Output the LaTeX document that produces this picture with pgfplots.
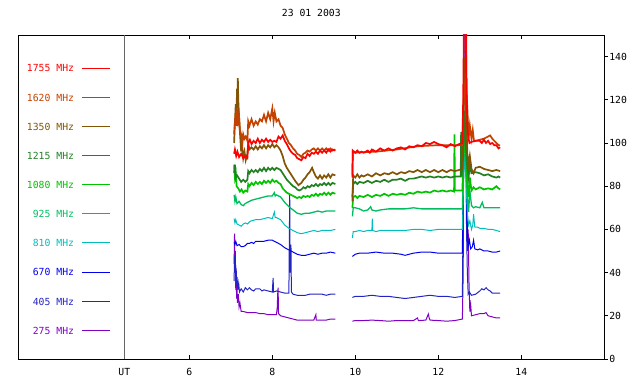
\documentclass[border=0pt]{standalone}
\usepackage{fontspec}
\setmainfont{DejaVu Sans Mono}
\usepackage{pgfplots}
\pgfplotsset{compat=1.18}
\definecolor{c1755}{RGB}{255,0,0}
\definecolor{c1620}{RGB}{196,66,0}
\definecolor{c1350}{RGB}{130,84,4}
\definecolor{c1215}{RGB}{34,128,34}
\definecolor{c1080}{RGB}{0,196,0}
\definecolor{c925}{RGB}{0,190,96}
\definecolor{c810}{RGB}{0,190,190}
\definecolor{c670}{RGB}{0,0,240}
\definecolor{c405}{RGB}{36,36,196}
\definecolor{c275}{RGB}{128,0,196}
\begin{document}
\begin{tikzpicture}[font=\fontsize{9.8}{11}\selectfont]
\begin{axis}[
  at={(0,0)}, anchor=south west,
  scale only axis, width=586bp, height=324bp,
  xmin=1.88, xmax=16.0, ymin=0, ymax=150,
  xtick={6,8,10,12,14}, ytick={0,20,...,140},
  extra x ticks={4.434}, extra x tick labels={UT},
  extra x tick style={grid=major, major grid style={draw=black!60, line width=0.8bp}, major tick length=0pt},
  ytick pos=right, yticklabel pos=right,
  tick align=inside, major tick length=4bp,
  y tick style={xshift=3.5bp},
  tick style={black, line width=0.7bp},
  axis line style={line width=0.8bp},
  /pgf/number format/assume math mode=true,
  x tick label style={yshift=-5.5bp},
  y tick label style={xshift=1.5bp},
  title={23 01 2003},
  title style={at={(0.5,1)}, anchor=base, yshift=13bp},
  unbounded coords=jump,
  every axis plot/.append style={line width=1bp},
  noisy/.style={line width=1.7bp},
  reverse legend,
  legend plot pos=right, legend cell align=right,
  legend image code/.code={\draw[#1,line width=1bp] (0bp,1bp) -- (28bp,1bp);},
  legend style={draw=none, fill=none, inner sep=0pt, outer sep=0pt,
    at={(axis cs:4.09,136.2)}, anchor=north east,
    row sep=20.4bp, column sep=7bp, nodes={inner sep=0pt}},
]
% 275 MHz
\addplot[c275] coordinates {(7.08,44) (7.09,58) (7.1,40) (7.11,50) (7.12,32) (7.13,40) (7.14,28) (7.15,34) (7.16,26) (7.18,30) (7.2,24) (7.22,26) (7.25,22) (7.3,22) (7.4,21.5) (7.5,21.5) (7.6,21.5) (7.7,21) (7.8,21) (7.9,20.5) (8.0,20.5) (8.1,20.5) (8.12,24) (8.13,30) (8.14,33) (8.15,21) (8.2,20) (8.3,19.5) (8.4,19) (8.5,18.5) (8.6,18) (8.7,18) (8.8,18) (8.9,18) (9.0,18) (9.05,20.5) (9.06,18) (9.2,18) (9.3,18) (9.4,18.5) (9.52,18.5) (9.7,nan)
(9.93,17.5) (10.0,17.8) (10.2,17.8) (10.4,18) (10.6,17.8) (10.8,17.5) (11.0,17.8) (11.2,17.8) (11.4,17.8) (11.5,19) (11.52,17.8) (11.7,18) (11.76,20.8) (11.78,19) (11.8,18) (12.0,17.8) (12.2,17.5) (12.4,17.8) (12.58,18.5) (12.6,40) (12.62,160) (12.68,160) (12.7,50) (12.72,60) (12.74,35) (12.76,22) (12.78,25) (12.8,20) (12.9,20.5) (13.0,21) (13.1,21) (13.15,21.5) (13.2,20) (13.3,19.5) (13.4,19) (13.49,19)};
\addlegendentry{\textcolor{c275}{275 MHz}}
% 405 MHz
\addplot[c405] coordinates {(7.08,36) (7.09,48) (7.1,42) (7.11,46) (7.12,38) (7.13,42) (7.14,34) (7.15,38) (7.17,32) (7.19,35) (7.21,31) (7.25,32.5) (7.3,31) (7.35,33) (7.4,32) (7.45,33) (7.5,32) (7.55,31.5) (7.6,32.5) (7.7,32.5) (7.75,31.5) (7.8,32) (7.9,31.5) (8.0,31) (8.02,37.5) (8.03,31) (8.1,31.5) (8.2,31) (8.3,30.5) (8.4,30.5) (8.42,76) (8.43,40) (8.45,53) (8.46,31) (8.5,30) (8.6,29.5) (8.7,29.5) (8.8,29.5) (8.9,30) (9.0,30) (9.1,30) (9.2,30) (9.3,29.5) (9.4,30) (9.52,30) (9.7,nan)
(9.93,28.5) (10.0,29) (10.2,29) (10.4,29.5) (10.6,29) (10.8,29) (11.0,28.5) (11.2,28) (11.4,28.5) (11.6,29) (11.8,29.5) (12.0,29) (12.2,29) (12.4,28.5) (12.58,29) (12.6,70) (12.62,160) (12.66,160) (12.68,60) (12.7,40) (12.72,30) (12.75,31) (12.8,29.5) (12.9,30) (13.0,31.5) (13.05,32.5) (13.1,32) (13.15,33) (13.2,32) (13.25,31.5) (13.3,30.5) (13.4,30.5) (13.49,30.5)};
\addlegendentry{\textcolor{c405}{405 MHz}}
% 670 MHz
\addplot[c670] coordinates {(7.08,54) (7.1,53) (7.12,54.5) (7.15,52.5) (7.2,53) (7.25,52) (7.3,52) (7.35,52.5) (7.4,53.5) (7.45,53.5) (7.5,54) (7.55,53.5) (7.6,54.5) (7.7,54.5) (7.8,54.5) (7.9,55) (8.0,55) (8.1,54) (8.2,53) (8.3,51.5) (8.4,50.5) (8.5,49.5) (8.6,48.5) (8.7,48) (8.8,48) (8.9,48.5) (9.0,49) (9.1,48.5) (9.2,49) (9.3,49) (9.4,49.5) (9.52,49) (9.7,nan)
(9.93,47.5) (10.0,48.5) (10.1,49) (10.3,49) (10.5,49.5) (10.7,49) (10.9,49) (11.1,48.5) (11.2,48) (11.4,49) (11.6,49.5) (11.8,49.5) (12.0,49) (12.2,49) (12.4,49) (12.58,49) (12.6,90) (12.62,160) (12.66,160) (12.68,70) (12.7,60) (12.72,52) (12.75,55) (12.78,51) (12.82,52) (12.85,55) (12.88,51) (12.95,50.5) (13.0,51) (13.1,50) (13.2,50) (13.3,49.5) (13.4,49.5) (13.49,50)};
\addlegendentry{\textcolor{c670}{670 MHz}}
% 810 MHz
\addplot[c810] coordinates {(7.08,65) (7.1,63) (7.12,64.5) (7.15,62.5) (7.2,62) (7.25,61.5) (7.3,62.5) (7.35,63) (7.4,62.5) (7.45,63.5) (7.5,64) (7.6,64.5) (7.7,64.5) (7.8,65) (7.9,65.5) (8.0,65) (8.05,68) (8.07,65.5) (8.1,65.5) (8.2,64.5) (8.3,62) (8.4,60.5) (8.5,59.5) (8.6,58.5) (8.7,58) (8.8,58.5) (8.9,59) (9.0,59.5) (9.1,59) (9.2,59.5) (9.3,59.5) (9.4,59.5) (9.52,60) (9.7,nan)
(9.93,56) (9.95,59) (10.0,59) (10.1,59.5) (10.2,59) (10.3,59.5) (10.4,59.5) (10.41,65) (10.42,59.5) (10.5,59) (10.6,59.5) (10.8,59.5) (11.0,59.5) (11.2,59.5) (11.4,60) (11.6,60) (11.8,59.5) (12.0,60) (12.2,60) (12.4,60) (12.58,60) (12.6,75) (12.63,95) (12.66,85) (12.7,68) (12.73,62) (12.76,64) (12.8,60) (12.83,62) (12.85,67) (12.88,61) (12.95,61) (13.0,60.5) (13.1,60.5) (13.2,60) (13.3,60) (13.4,59.5) (13.49,59)};
\addlegendentry{\textcolor{c810}{810 MHz}}
% 925 MHz
\addplot[c925, line width=1.3bp] coordinates {(7.08,76) (7.1,73) (7.12,75) (7.15,72) (7.2,73) (7.25,71.5) (7.3,71) (7.35,72) (7.4,72.5) (7.5,73.5) (7.6,74) (7.7,74.5) (7.8,75) (7.9,75.5) (8.0,75.5) (8.05,77) (8.07,75.5) (8.1,76) (8.2,75) (8.3,72.5) (8.4,70.5) (8.5,69) (8.6,67.5) (8.7,67) (8.8,67.5) (8.9,67.5) (9.0,68) (9.1,68.5) (9.2,68) (9.3,68.5) (9.4,68.5) (9.52,68.5) (9.7,nan)
(9.93,66) (9.95,70) (10.0,70) (10.1,69.5) (10.2,68.5) (10.3,69) (10.37,70.5) (10.4,69) (10.5,68.5) (10.6,69) (10.8,69.5) (11.0,69.5) (11.2,69.5) (11.4,70) (11.6,69.5) (11.8,69.5) (12.0,69.5) (12.2,69.5) (12.4,69.5) (12.58,69.5) (12.6,85) (12.63,105) (12.66,95) (12.7,75) (12.73,68) (12.76,78) (12.8,71) (12.85,70) (12.9,70.5) (13.0,70) (13.06,72.5) (13.1,70) (13.2,70) (13.3,70) (13.4,70) (13.49,70)};
\addlegendentry{\textcolor{c925}{925 MHz}}
% 1080 MHz
\addplot[c1080, noisy] coordinates {(7.08,90) (7.1,84) (7.12,86) (7.14,80) (7.18,79) (7.22,77.5) (7.26,78.5) (7.3,77) (7.35,78) (7.4,77.5) (7.42,81) (7.45,80) (7.5,81.5) (7.55,80.5) (7.6,82) (7.65,81) (7.7,82) (7.75,81) (7.8,82.5) (7.85,81.5) (7.9,82.5) (7.95,81.5) (8.0,83) (8.05,82) (8.1,82.5) (8.15,81.5) (8.2,81) (8.25,79) (8.3,78) (8.35,77) (8.4,76.5) (8.45,76) (8.5,75.5) (8.55,75) (8.6,74.5) (8.65,75) (8.7,74.5) (8.75,75.5) (8.8,75) (8.85,75.5) (8.9,75) (8.95,76) (9.0,75.5) (9.05,76.5) (9.1,75.5) (9.15,76.5) (9.2,76) (9.25,77) (9.3,76) (9.35,77) (9.4,76) (9.45,77) (9.52,76.5) (9.7,nan)
(9.93,70) (9.95,75) (10.0,75.5) (10.05,74.5) (10.1,75.5) (10.2,75) (10.3,76) (10.4,75) (10.5,76) (10.6,75.5) (10.7,76.5) (10.8,75.5) (10.9,76.5) (11.0,76) (11.1,76.5) (11.2,76) (11.3,77) (11.4,76.5) (11.5,77.5) (11.6,77) (11.7,77.5) (11.8,77) (11.9,78) (12.0,77.5) (12.1,78) (12.2,77.5) (12.3,78) (12.38,77.5) (12.39,104) (12.4,78) (12.5,78) (12.58,78) (12.6,90) (12.63,110) (12.66,95) (12.7,80) (12.73,75) (12.76,84) (12.8,78) (12.85,79.5) (12.9,78.5) (13.0,79.5) (13.1,78.5) (13.2,79) (13.3,78.5) (13.4,80) (13.45,79) (13.49,78.5)};
\addlegendentry{\textcolor{c1080}{1080 MHz}}
% 1215 MHz
\addplot[c1215, noisy] coordinates {(7.08,86) (7.1,90) (7.12,84) (7.15,85) (7.2,83.5) (7.25,82) (7.3,83) (7.35,82) (7.4,83) (7.42,87) (7.45,86) (7.5,87.5) (7.55,86.5) (7.6,87.5) (7.65,86.5) (7.7,88) (7.75,87) (7.8,88.5) (7.85,87) (7.9,88.5) (7.95,87.5) (8.0,88.5) (8.05,87.5) (8.1,88.5) (8.15,88) (8.2,87.5) (8.25,86) (8.3,84.5) (8.35,83) (8.4,82) (8.45,81) (8.5,80) (8.55,79.5) (8.6,78.5) (8.65,78) (8.7,78.5) (8.75,79.5) (8.8,79) (8.85,80) (8.9,79.5) (8.95,80.5) (9.0,80) (9.05,81) (9.1,80) (9.15,81) (9.2,80.5) (9.25,81.5) (9.3,80.5) (9.35,81.5) (9.4,80.5) (9.45,81.5) (9.52,81) (9.7,nan)
(9.93,75) (9.95,81) (10.0,82) (10.05,81) (10.1,82) (10.2,81.5) (10.3,82.5) (10.4,81.5) (10.5,82.5) (10.6,82) (10.7,83) (10.8,82) (10.9,83) (11.0,83) (11.1,83.5) (11.2,82.5) (11.3,83.5) (11.4,83.5) (11.5,84) (11.6,84.5) (11.7,84) (11.8,84.5) (11.9,84) (12.0,84.5) (12.1,84) (12.2,84.5) (12.3,84) (12.4,84.5) (12.5,84.5) (12.54,84.5) (12.55,105) (12.56,84.5) (12.6,95) (12.63,115) (12.66,100) (12.7,88) (12.73,84) (12.76,90) (12.8,86) (12.9,86.5) (13.0,86) (13.1,85) (13.2,85.5) (13.3,84.5) (13.4,84) (13.45,84.5) (13.49,84)};
\addlegendentry{\textcolor{c1215}{1215 MHz}}
% 1350 MHz
\addplot[c1350, noisy] coordinates {(7.08,100) (7.1,110) (7.12,118) (7.14,115) (7.15,125) (7.16,122) (7.17,130) (7.18,120) (7.2,112) (7.22,105) (7.25,96) (7.27,99) (7.3,93) (7.33,96) (7.36,92) (7.4,95) (7.42,100) (7.45,97) (7.5,98) (7.55,97) (7.6,98.5) (7.65,97) (7.7,98.5) (7.75,97.5) (7.8,99) (7.85,97.5) (7.9,99) (7.95,98) (8.0,99.5) (8.05,98) (8.1,99) (8.15,98) (8.2,96.5) (8.25,94) (8.3,90.5) (8.35,88.5) (8.4,87) (8.45,85.5) (8.5,84) (8.55,82.5) (8.63,80.5) (8.7,81.5) (8.75,83) (8.8,84) (8.85,85.5) (8.9,86.5) (8.96,88.5) (9.0,86.5) (9.05,84.5) (9.1,83.5) (9.15,85) (9.2,83.5) (9.25,85) (9.3,84) (9.35,85.5) (9.4,84) (9.45,85.5) (9.52,85) (9.7,nan)
(9.93,73) (9.95,85) (10.0,84) (10.05,85.5) (10.1,84) (10.15,85) (10.2,84.5) (10.3,85.5) (10.4,84.5) (10.5,86) (10.6,85) (10.7,86) (10.8,85.5) (10.9,86.5) (11.0,85.5) (11.1,86.5) (11.2,86) (11.3,87) (11.4,86.5) (11.5,87.5) (11.6,86.5) (11.7,87.5) (11.8,86.5) (11.9,87.5) (12.0,86.5) (12.1,87.5) (12.2,86.5) (12.3,87.5) (12.4,87) (12.5,87.5) (12.58,88) (12.6,100) (12.63,140) (12.66,120) (12.7,95) (12.73,90) (12.76,94) (12.8,88) (12.85,86) (12.9,88.5) (13.0,89) (13.1,88) (13.2,87.5) (13.3,87) (13.4,87.5) (13.49,87)};
\addlegendentry{\textcolor{c1350}{1350 MHz}}
% 1620 MHz
\addplot[c1620, noisy] coordinates {(7.08,104) (7.1,110) (7.12,113) (7.14,108) (7.16,116) (7.18,110) (7.2,112) (7.22,106) (7.25,104) (7.28,100) (7.3,104) (7.33,102) (7.36,103) (7.4,101) (7.42,110) (7.45,108) (7.5,111) (7.55,108) (7.6,110) (7.65,108.5) (7.7,111) (7.75,110) (7.8,113) (7.85,110) (7.9,114) (7.95,111) (8.0,116) (8.03,110) (8.06,114) (8.1,110) (8.15,111) (8.2,108) (8.25,107) (8.3,104) (8.35,102) (8.4,100) (8.45,99) (8.5,97.5) (8.55,96.5) (8.6,95) (8.65,94.5) (8.7,93.5) (8.75,95) (8.8,95.5) (8.85,96.5) (8.9,96) (8.95,97) (9.0,97.5) (9.05,96.5) (9.1,97.5) (9.15,96.5) (9.2,97.5) (9.25,96.5) (9.3,97.5) (9.35,96.5) (9.4,97.5) (9.45,96.5) (9.52,97) (9.7,nan)
(9.93,85) (9.94,96) (10.0,95.5) (10.5,96) (11.0,97) (11.5,98.5) (12.0,99) (12.5,99) (12.58,99.5) (12.6,115) (12.63,125) (12.66,130) (12.7,116) (12.73,102) (12.76,108) (12.8,102) (12.83,106) (12.86,101) (12.9,101) (13.0,101.5) (13.1,102) (13.2,103) (13.25,103.5) (13.3,102) (13.4,100) (13.45,99) (13.49,99)};
\addlegendentry{\textcolor{c1620}{1620 MHz}}
% 1755 MHz
\addplot[c1755, noisy] coordinates {(7.08,95) (7.1,97) (7.13,94) (7.16,96) (7.2,93.5) (7.25,95) (7.3,93) (7.35,94) (7.4,93) (7.42,100) (7.46,101.5) (7.5,99.5) (7.55,101) (7.6,100) (7.65,102) (7.7,100) (7.75,101.5) (7.8,100.5) (7.85,102) (7.9,100.5) (7.95,101.5) (8.0,100.5) (8.05,101) (8.1,100.5) (8.15,103) (8.2,102) (8.25,103.5) (8.3,101) (8.35,99.5) (8.4,97.5) (8.45,96) (8.5,95) (8.55,94.5) (8.6,93) (8.65,92.5) (8.7,92) (8.75,93.5) (8.8,93) (8.85,95) (8.9,94) (8.95,95.5) (9.0,95) (9.05,96) (9.1,95) (9.15,96.5) (9.2,95.5) (9.25,96.5) (9.3,95.5) (9.35,97) (9.4,96) (9.45,97) (9.52,96.5) (9.7,nan)
(9.93,84) (9.94,96.5) (10.0,95.5) (10.05,96.5) (10.1,95.5) (10.15,96) (10.2,95.5) (10.3,96.5) (10.35,95.5) (10.4,97) (10.5,96) (10.6,97.5) (10.7,96.5) (10.8,97.5) (10.9,96.5) (11.0,97.5) (11.1,98) (11.2,97) (11.3,98.5) (11.4,98) (11.5,99) (11.6,98.5) (11.7,100) (11.8,99.5) (11.9,100.5) (12.0,99.5) (12.1,99) (12.2,98) (12.3,99.5) (12.4,98.5) (12.5,99.5) (12.58,100) (12.6,120) (12.62,160) (12.66,160) (12.68,125) (12.7,108) (12.72,103) (12.75,100) (12.8,100.5) (12.9,101) (13.0,101) (13.05,100) (13.1,101.5) (13.15,100) (13.2,101) (13.25,99.5) (13.3,100) (13.35,99) (13.4,99) (13.45,97.5) (13.49,98)};
\addlegendentry{\textcolor{c1755}{1755 MHz}}
\end{axis}
\pgfresetboundingbox
\useasboundingbox (-18.3bp,-25bp) rectangle (621.7bp,359bp);
\end{tikzpicture}
\end{document}
